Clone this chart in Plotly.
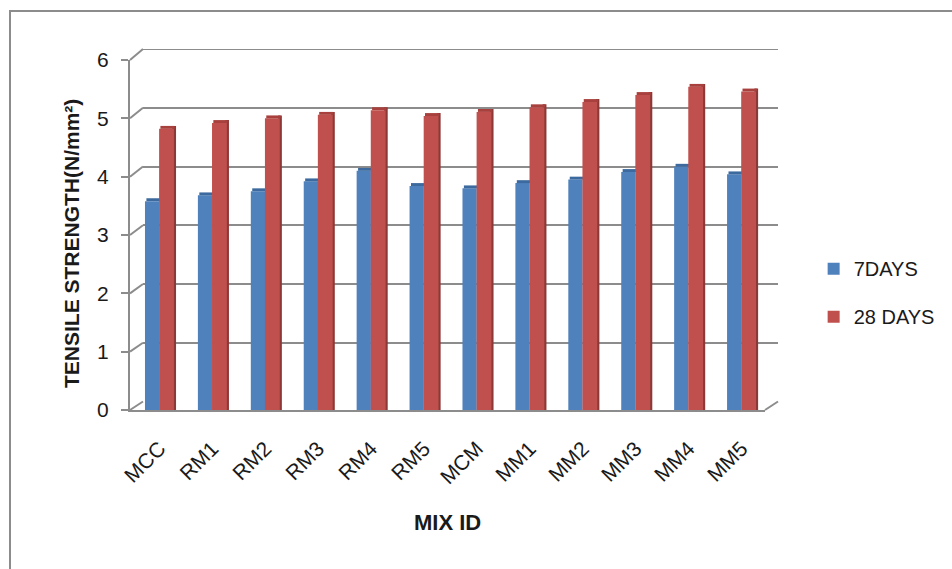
import plotly.graph_objects as go

# Split tensile strength (N/mm²) at 7 and 28 days for each mix
mix_ids = ["MCC", "RM1", "RM2", "RM3", "RM4", "RM5",
           "MCM", "MM1", "MM2", "MM3", "MM4", "MM5"]
days_7 = [3.58, 3.68, 3.75, 3.92, 4.10, 3.84, 3.80, 3.89, 3.95, 4.08, 4.17, 4.04]
days_28 = [4.82, 4.92, 5.00, 5.06, 5.14, 5.04, 5.11, 5.19, 5.28, 5.40, 5.54, 5.46]
y_ticks = [0, 1, 2, 3, 4, 5, 6]

BLUE = "#4F81BD"
BLUE_TOP = "#3C6A9E"
RED = "#C0504D"
RED_TOP = "#A8403D"
RED_SIDE = "#8C3836"
GRID = "#8C8C8C"
TEXT = "#1A1A1A"
FONT = "Liberation Sans"
CAP = 0.05  # thickness of the bar top faces, in axis units

W, H = 952, 569
ML, MR, MT, MB = 130, 174, 49, 159
PW = W - ML - MR
PH = H - MT - MB

# Front plane (bars + axes) and back wall (gridlines), offset for depth
FRONT_X = [0, 635 / PW]
FRONT_Y = [0, 350 / PH]
BACK_X = [13 / PW, 1]
BACK_Y = [8.5 / PH, 1]

fig = go.Figure()

# Back wall: invisible trace to host the gridlines
fig.add_trace(go.Scatter(x=[0], y=[0], xaxis="x", yaxis="y", mode="markers",
                         marker=dict(opacity=0), showlegend=False, hoverinfo="skip"))

bar_common = dict(xaxis="x2", yaxis="y2", marker_line_width=0)

# 7 days: front face + top face
fig.add_trace(go.Bar(x=mix_ids, y=days_7, name="7DAYS", marker_color=BLUE,
                     offset=-0.217, width=0.27, legendgroup="a", **bar_common))
fig.add_trace(go.Bar(x=mix_ids, y=[CAP] * len(days_7), base=days_7,
                     marker_color=BLUE_TOP, offset=-0.19, width=0.27,
                     showlegend=False, hoverinfo="skip", **bar_common))

# 28 days: side face, front face + top face
fig.add_trace(go.Bar(x=mix_ids, y=[v + CAP for v in days_28], marker_color=RED_SIDE,
                     offset=0.30, width=0.07, showlegend=False, hoverinfo="skip",
                     **bar_common))
fig.add_trace(go.Bar(x=mix_ids, y=days_28, name="28 DAYS", marker_color=RED,
                     offset=0.05, width=0.28, legendgroup="b", **bar_common))
fig.add_trace(go.Bar(x=mix_ids, y=[CAP] * len(days_28), base=days_28,
                     marker_color=RED_TOP, offset=0.075, width=0.27,
                     showlegend=False, hoverinfo="skip", **bar_common))


def px_to_paper(px, py):
    return (px - ML) / PW, (H - MB - py) / PH


def front_y(v):
    return FRONT_Y[0] + (FRONT_Y[1] - FRONT_Y[0]) * v / 6


def back_y(v):
    return BACK_Y[0] + (BACK_Y[1] - BACK_Y[0]) * v / 6


shapes = []
# Back wall top edge (the gridline at the range limit)
shapes.append(dict(type="line", xref="x domain", yref="y",
                   x0=0, x1=1, y0=y_ticks[-1], y1=y_ticks[-1],
                   line=dict(color=GRID, width=2), layer="below"))
# Left wall connectors from each front tick to its back gridline
for v in y_ticks:
    shapes.append(dict(type="line", xref="paper", yref="paper",
                       x0=FRONT_X[0], y0=front_y(v), x1=BACK_X[0], y1=back_y(v),
                       line=dict(color=GRID, width=2), layer="below"))
# Floor right edge
shapes.append(dict(type="line", xref="paper", yref="paper",
                   x0=FRONT_X[1], y0=front_y(0), x1=BACK_X[1], y1=back_y(0),
                   line=dict(color=GRID, width=2), layer="below"))
# Chart area border
bx0, by1 = px_to_paper(10, 11)
shapes.append(dict(type="rect", xref="paper", yref="paper",
                   x0=bx0, y0=-1, x1=2, y1=by1,
                   line=dict(color=GRID, width=2), fillcolor="rgba(0,0,0,0)",
                   layer="below"))

ytx, yty = px_to_paper(72, 244)
xtx, xty = px_to_paper(447, 522)

fig.update_layout(
    width=W, height=H,
    margin=dict(l=ML, r=MR, t=MT, b=MB),
    paper_bgcolor="white", plot_bgcolor="rgba(0,0,0,0)",
    barmode="overlay",
    font=dict(family=FONT, color=TEXT, size=20),
    xaxis=dict(domain=BACK_X, anchor="y", range=[0, 1], visible=False),
    yaxis=dict(domain=BACK_Y, anchor="x", range=[0, 6], tickvals=y_ticks,
               showgrid=True, gridcolor=GRID, gridwidth=2, zeroline=False,
               showticklabels=False, showline=False, ticks=""),
    xaxis2=dict(domain=FRONT_X, anchor="y2", type="category",
                range=[-0.5, len(mix_ids) - 0.5],
                showline=True, linecolor=GRID, linewidth=2, ticks="",
                tickangle=-45, tickfont=dict(size=21, color=TEXT),
                ticklabelstandoff=16, ticklabelshift=3, showgrid=False),
    yaxis2=dict(domain=FRONT_Y, anchor="x2", range=[0, 6], tickvals=y_ticks,
                showline=True, linecolor=GRID, linewidth=2,
                ticks="outside", ticklen=7, tickwidth=2, tickcolor=GRID,
                tickfont=dict(size=21, color=TEXT), showgrid=False,
                ticklabelstandoff=8, zeroline=False),
    legend=dict(x=1.055, y=0.325, xanchor="left", yanchor="middle",
                font=dict(size=20, color=TEXT), tracegroupgap=19,
                bgcolor="rgba(0,0,0,0)"),
    shapes=shapes,
    annotations=[
        dict(text="<b>TENSILE STRENGTH(N/mm²)</b>", xref="paper", yref="paper",
             x=ytx, y=yty, xanchor="center", yanchor="middle",
             textangle=-90, showarrow=False,
             font=dict(size=21, color=TEXT, family=FONT)),
        dict(text="<b>MIX ID</b>", xref="paper", yref="paper",
             x=xtx, y=xty, xanchor="center", yanchor="middle", showarrow=False,
             font=dict(size=22, color=TEXT, family=FONT)),
    ],
)

fig.write_html("out.html")
